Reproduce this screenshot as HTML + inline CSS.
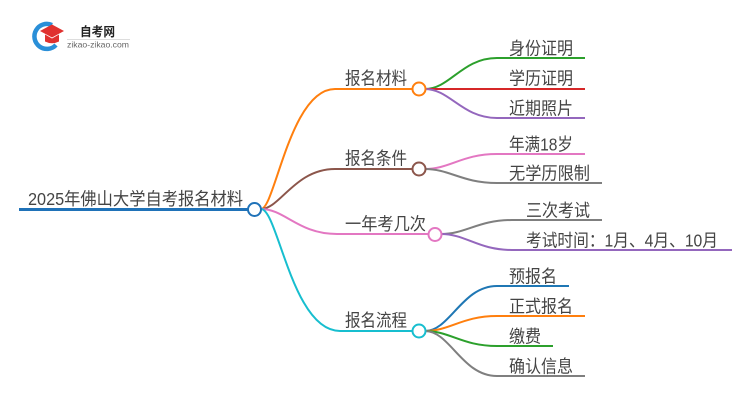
<!DOCTYPE html>
<html><head><meta charset="utf-8"><style>
html,body{margin:0;padding:0;background:#fff;width:750px;height:410px;overflow:hidden}
svg{display:block}
text{font-family:"Liberation Sans","Noto Sans CJK SC",sans-serif;fill:#444;font-size:17.5px}
</style></head><body>
<svg width="750" height="410" viewBox="0 0 750 410" xmlns="http://www.w3.org/2000/svg">
<!-- logo -->
<path d="M52 25 A12.5 12.5 0 1 0 56 45" fill="none" stroke="#2a8fd8" stroke-width="4.5"/>
<polygon points="40,31 52,24.5 64,31 52,37.5" fill="#e0312f"/>
<path d="M45 34.5 L45 41.5 Q52 45 59 41.5 L59 34.5 L52 38.5 Z" fill="#e0312f"/>
<text x="80" y="36" style="font-size:12.5px;font-weight:bold;fill:#222" textLength="35" lengthAdjust="spacingAndGlyphs">自考网</text>
<line x1="67" y1="39.5" x2="130" y2="39.5" stroke="#ddd" stroke-width="1"/>
<text x="67" y="47.5" style="font-size:8.5px;fill:#666" textLength="62" lengthAdjust="spacingAndGlyphs">zikao-zikao.com</text>

<g fill="none" stroke-width="2">
<path d="M261 209 C275 209 290 89 335 89 L413 89" stroke="#ff7f0e"/>
<path d="M261 209 C280 209 295 169 335 169 L413 169" stroke="#8c564b"/>
<path d="M261 209 C285 209 298 234 337 234 L429 234" stroke="#e377c2"/>
<path d="M261 209 C278 209 292 331 340 331 L413 331" stroke="#17becf"/>
<path d="M425 89 C450 89 462 58 497 58 L585 58" stroke="#2ca02c"/>
<path d="M425 89 L585 89" stroke="#d62728"/>
<path d="M425 89 C450 89 462 118 497 118 L585 118" stroke="#9467bd"/>
<path d="M425 169 C450 169 462 154 497 154 L585 154" stroke="#e377c2"/>
<path d="M425 169 C450 169 462 183 497 183 L602 183" stroke="#7f7f7f"/>
<path d="M441 234 C466 234 478 220 512 220 L602 220" stroke="#7f7f7f"/>
<path d="M441 234 C466 234 478 250 512 250 L732 250" stroke="#9467bd"/>
<path d="M425 331 C450 331 462 286 497 286 L569 286" stroke="#1f77b4"/>
<path d="M425 331 C450 331 462 316 497 316 L585 316" stroke="#ff7f0e"/>
<path d="M425 331 C450 331 462 346 497 346 L553 346" stroke="#2ca02c"/>
<path d="M425 331 C450 331 462 376 497 376 L585 376" stroke="#7f7f7f"/>
</g>
<line x1="19" y1="209.5" x2="248" y2="209.5" stroke="#1f72b8" stroke-width="3"/>
<circle cx="254.5" cy="209.5" r="6.5" fill="#fff" stroke="#1f72b8" stroke-width="2"/>
<circle cx="419" cy="89" r="6.5" fill="#fff" stroke="#ff7f0e" stroke-width="2"/>
<circle cx="419" cy="169" r="6.5" fill="#fff" stroke="#8c564b" stroke-width="2"/>
<circle cx="435" cy="234.5" r="6.5" fill="#fff" stroke="#e377c2" stroke-width="2"/>
<circle cx="419" cy="331" r="6.5" fill="#fff" stroke="#17becf" stroke-width="2"/>

<text x="28" y="205" textLength="215" lengthAdjust="spacingAndGlyphs">2025年佛山大学自考报名材料</text>
<text x="345" y="84.5" textLength="62" lengthAdjust="spacingAndGlyphs">报名材料</text>
<text x="345" y="164.5" textLength="62" lengthAdjust="spacingAndGlyphs">报名条件</text>
<text x="345" y="230" textLength="81" lengthAdjust="spacingAndGlyphs">一年考几次</text>
<text x="345" y="326.5" textLength="62" lengthAdjust="spacingAndGlyphs">报名流程</text>

<text x="509" y="54.5" textLength="64" lengthAdjust="spacingAndGlyphs">身份证明</text>
<text x="509" y="84.5" textLength="64" lengthAdjust="spacingAndGlyphs">学历证明</text>
<text x="509" y="114.5" textLength="64" lengthAdjust="spacingAndGlyphs">近期照片</text>
<text x="509" y="150.5" textLength="64" lengthAdjust="spacingAndGlyphs">年满18岁</text>
<text x="509" y="179.5" textLength="81" lengthAdjust="spacingAndGlyphs">无学历限制</text>
<text x="526" y="216.5" textLength="64" lengthAdjust="spacingAndGlyphs">三次考试</text>
<text x="526" y="246.5" textLength="192" lengthAdjust="spacingAndGlyphs">考试时间：1月、4月、10月</text>
<text x="509" y="282.5" textLength="48" lengthAdjust="spacingAndGlyphs">预报名</text>
<text x="509" y="312.5" textLength="64" lengthAdjust="spacingAndGlyphs">正式报名</text>
<text x="509" y="342.5" textLength="32" lengthAdjust="spacingAndGlyphs">缴费</text>
<text x="509" y="372.5" textLength="64" lengthAdjust="spacingAndGlyphs">确认信息</text>
</svg>
</body></html>
